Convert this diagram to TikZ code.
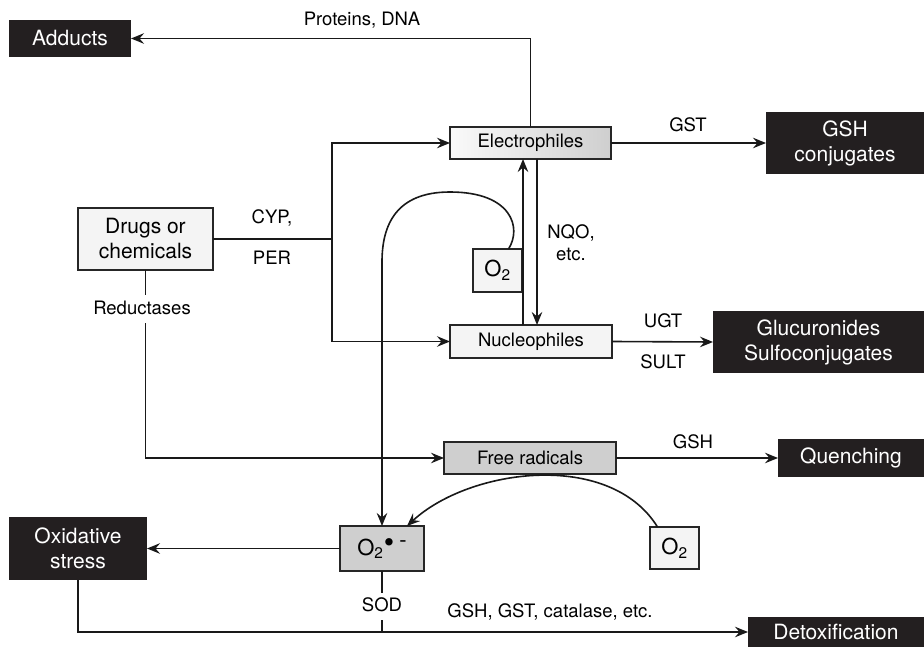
\documentclass[tikz,border=0pt]{standalone}
\usepackage{fontspec}
\setmainfont{TeX Gyre Heros}
\usetikzlibrary{arrows.meta}
\definecolor{boxblack}{HTML}{231F20}
\definecolor{lightfill}{HTML}{F4F4F4}
\definecolor{grayfill}{HTML}{CFCFCF}
\begin{document}
\begin{tikzpicture}[x=1pt,y=-1pt,
  base/.style={inner sep=0pt, outer sep=0pt, font=\fontsize{21}{25}\selectfont, align=center},
  blk/.style={base, fill=boxblack, text=white},
  wbox/.style={base, draw=black!85, fill=lightfill, line width=1.3},
  gbox/.style={base, draw=black!85, fill=grayfill, line width=1.3},
  smalltext/.style={font=\fontsize{18.5}{22}\selectfont},
  lbl/.style={inner sep=0pt, smalltext, align=center},
  arr/.style={-{Stealth[length=13pt,width=10.5pt,inset=4.5pt]}, line width=1.6, draw=black!90},
  con/.style={line width=1.6, draw=black!90}
]
\useasboundingbox (0,0) rectangle (924,647);

% boxes
\node[blk, minimum width=122, minimum height=37] (adducts) at (70,38.5) {Adducts};
\node[base, draw=black!85, line width=1.3, left color=gray!4, right color=gray!38, minimum width=161, minimum height=32, smalltext] (electro) at (530.5,143) {Electrophiles};
\node[blk, minimum width=158, minimum height=62] (gshconj) at (845,143) {GSH\\conjugates};
\node[wbox, minimum width=135, minimum height=62] (drugs) at (145.5,239) {Drugs or\\chemicals};
\node[wbox, minimum width=162, minimum height=33, smalltext] (nucleo) at (531,341.5) {Nucleophiles};
\node[blk, minimum width=211, minimum height=62] (gluc) at (818.5,342) {Glucuronides\\Sulfoconjugates};
\node[gbox, minimum width=172, minimum height=32, smalltext] (freerad) at (530,458) {Free radicals};
\node[blk, minimum width=146, minimum height=38] (quench) at (851,458) {Quenching};
\node[wbox, minimum width=49, minimum height=43, font=\fontsize{22}{24}\selectfont] (o2a) at (497.5,270.5) {O\textsubscript{2}};
\node[wbox, minimum width=49, minimum height=42, font=\fontsize{22}{24}\selectfont] (o2b) at (674.5,548) {O\textsubscript{2}};
\node[gbox, minimum width=84, minimum height=45, font=\fontsize{22}{24}\selectfont] (o2m) at (382,548.5) {O\textsubscript{2}\kern0.5pt\raisebox{3pt}{\scalebox{1.35}{\textbullet}}\kern5pt\raisebox{8pt}{-}};
\node[blk, minimum width=138, minimum height=63] (oxstress) at (78,548.5) {Oxidative\\stress};
\node[blk, minimum width=176, minimum height=30] (detox) at (836,632) {Detoxification};

% labels
\node[lbl] (lprot) at (362,20) {Proteins, DNA};
\node[lbl] (lgst) at (688,125) {GST};
\node[lbl] (lcyp) at (272,218) {CYP,};
\node[lbl] (lper) at (272,258) {PER};
\node[lbl] (lnqo) at (571,243) {NQO,\\etc.};
\node[lbl] (lugt) at (663,321) {UGT};
\node[lbl] (lsult) at (663,362) {SULT};
\node[lbl] (lred) at (142,308) {Reductases};
\node[lbl] (lgsh) at (693,442) {GSH};
\node[lbl] (lsod) at (382,605) {SOD};
\node[lbl] (lcat) at (550,612) {GSH, GST, catalase, etc.};

% helper coordinates
\coordinate (split) at (332,239);
\coordinate (xup) at (523,0);
\coordinate (xdn) at (537,0);
\coordinate (redtop) at (145.5,295);
\coordinate (redbot) at (145.5,323);

% connectors
\draw[arr] (electro.north) |- (adducts.east);
\draw[arr] (electro.east) -- (gshconj.west);
\draw[con] (drugs.east) -- (split);
\draw[arr] (split) |- (electro.west);
\draw[arr] (split) |- (nucleo.west);
\draw[arr] (nucleo.north -| xup) -- (electro.south -| xup);
\draw[arr] (electro.south -| xdn) -- (nucleo.north -| xdn);
\draw[arr] (nucleo.east) -- (gluc.west);
\draw[con] (drugs.south) -- (redtop);
\draw[arr] (redbot) |- (freerad.west);
\draw[arr] (freerad.east) -- (quench.west);
\draw[arr] ([xshift=11]o2a.north) .. controls (522,228) and (512,192) .. (450,192)
   .. controls (396,192) and (382,225) .. (382,262) -- (o2m.north);
\draw[arr] ([xshift=-17]o2b.north) .. controls (610,450) and (470,468) .. ([xshift=25]o2m.north);
\draw[arr] (o2m.west) -- (oxstress.east);
\draw[arr] (oxstress.south) |- (detox.west);
\draw[con] (o2m.south) -- ++(0,22);
\draw[con] (detox.west -| o2m.south) -- ++(0,-12);
\end{tikzpicture}
\end{document}
